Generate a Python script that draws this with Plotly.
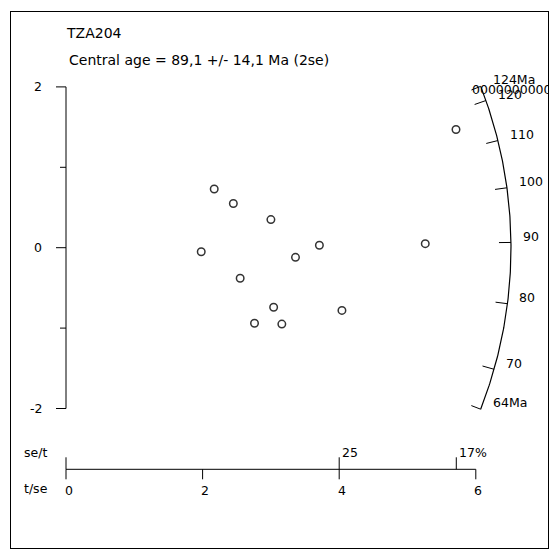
import numpy as np
import plotly.graph_objects as go

# ---------------- data ----------------
sample_name = "TZA204"
central_age = 89.1
central_err = 14.1
# precision (t/se) and standardised estimate of each grain
precision = [2.17, 2.45, 3.00, 1.98, 3.36, 3.71, 2.55, 3.04, 2.76, 3.16, 4.04, 5.26, 5.71]
std_est = [0.73, 0.55, 0.35, -0.05, -0.12, 0.03, -0.38, -0.74, -0.94, -0.95, -0.78, 0.05, 1.47]
x_ticks = [0, 2, 4, 6]
x_tick_labels = ["0", "2", "4", "6"]
y_major = [-2, 0, 2]
y_major_labels = ["-2", "0", "2"]
y_minor = [-1, 1]
se_t_ticks = [0.25, 0.175]
se_t_labels = ["25", "17%"]
age_ticks = [70, 80, 90, 100, 110, 120]
age_tick_labels = ["70", "80", "90", "100", "110", "120"]
age_min, age_max = 64, 124
age_min_label, age_max_label = "64Ma", "124Ma"
stray_label = "00000000000000"

# ---------------- layout geometry ----------------
OFF = 8                       # page body margin
W = H = 552
ML, MT = 3, 4
MR, MB = W - (548 - OFF), H - (548 - OFF)
OX, OY = 66.0 - OFF, 247.7 - OFF   # pixel position of data origin (figure coords)
SX, SY = 68.3, 80.4           # pixels per unit
R_ARC = 445.0                 # arc radius in pixels
FONT = "DejaVu Sans"

xr = [(ML - OX) / SX, (W - MR - OX) / SX]
yr = [(OY - (H - MB)) / SY, (OY - MT) / SY]

def px2d(px, py):
    # px, py given in window pixels
    return (px - OFF - OX) / SX, (OY - (py - OFF)) / SY

def dx(p):
    return p / SX

def dy(p):
    return p / SY

def age_dir(t):
    s = np.log(t / central_age)
    return np.arctan(s * SY / SX)

def age_pt(t, r):
    a = age_dir(t)
    return r * np.cos(a) / SX, r * np.sin(a) / SY

fig = go.Figure()

def seg(xs, ys, width=1):
    fig.add_trace(go.Scatter(x=xs, y=ys, mode="lines",
                             line=dict(color="black", width=width),
                             hoverinfo="skip", showlegend=False))

annotations = []

def label(x, y, text, xanchor="left", size=12.5):
    annotations.append(dict(x=x, y=y, xref="x", yref="y", text=text,
                            showarrow=False, xanchor=xanchor, yanchor="middle",
                            font=dict(family=FONT, size=size, color="black")))

# ---- y axis ----
seg([0, 0], [min(y_major), max(y_major)])
for v, lab in zip(y_major, y_major_labels):
    seg([-dx(10), 0], [v, v])
    label(-dx(22), v, lab, xanchor="right")
for v in y_minor:
    seg([-dx(6), 0], [v, v])

# ---- bottom precision axis ----
y_ax = -dy(469.3 - 247.7)
seg([0, max(x_ticks)], [y_ax, y_ax])
for v, lab in zip(x_ticks, x_tick_labels):
    seg([v, v], [y_ax, y_ax - dy(10)])
    label(v + dx(2.5), y_ax - dy(21), lab, xanchor="center")
seg([0, 0], [y_ax, y_ax + dy(12)])
for v, lab in zip(se_t_ticks, se_t_labels):
    xv = 1.0 / v
    seg([xv, xv], [y_ax, y_ax + dy(12)])
    label(xv + dx(1), y_ax + dy(16.5), lab)
lx, _ = px2d(22, 0)
label(lx, y_ax + dy(16.5), "se/t")
label(lx, y_ax - dy(19), "t/se")

# ---- radial age arc ----
ages = np.linspace(age_min, age_max, 200)
ax_, ay_ = age_pt(ages, R_ARC)
seg(list(ax_), list(ay_), width=1.2)
for t, lab in zip(age_ticks, age_tick_labels):
    x0, y0 = age_pt(t, R_ARC)
    x1, y1 = age_pt(t, R_ARC - 12)
    seg([x1, x0], [y1, y0])
    label(x0 + dx(10), y0 + dy(6), lab)
for t, lab in [(age_min, age_min_label), (age_max, age_max_label)]:
    x0, y0 = age_pt(t, R_ARC)
    x1, y1 = age_pt(t, R_ARC - 10)
    seg([x1, x0], [y1, y0])
    label(x0 + dx(10), y0 + dy(7), lab)

# stray overlapping label (clipped at the frame)
sx_, sy_ = px2d(472, 90.5)
fig.add_trace(go.Scatter(x=[sx_], y=[sy_], mode="text", text=[stray_label],
                         textposition="middle right", cliponaxis=True,
                         textfont=dict(family=FONT, size=12.5, color="black"),
                         hoverinfo="skip", showlegend=False))

# ---- grains ----
fig.add_trace(go.Scatter(x=precision, y=std_est, mode="markers",
                         marker=dict(symbol="circle-open", size=7.5,
                                     color="#333333", line=dict(width=1.5, color="#333333")),
                         showlegend=False))

# ---- titles ----
tx, ty = px2d(63.5, 33)
label(tx, ty, sample_name, size=14)
cx, cy = px2d(67, 60)
label(cx, cy, f"Central age = {central_age:.1f} +/- {central_err:.1f} Ma (2se)".replace(".", ","), size=14)

fig.update_layout(
    width=W, height=H, margin=dict(l=ML, r=MR, t=MT, b=MB),
    paper_bgcolor="white", plot_bgcolor="white",
    xaxis=dict(range=xr, showgrid=False, zeroline=False, showticklabels=False,
               ticks="", showline=True, mirror=True, linecolor="black", linewidth=1,
               fixedrange=True),
    yaxis=dict(range=yr, showgrid=False, zeroline=False, showticklabels=False,
               ticks="", showline=True, mirror=True, linecolor="black", linewidth=1,
               fixedrange=True),
    annotations=annotations,
    showlegend=False,
)

fig.write_html("out.html")
